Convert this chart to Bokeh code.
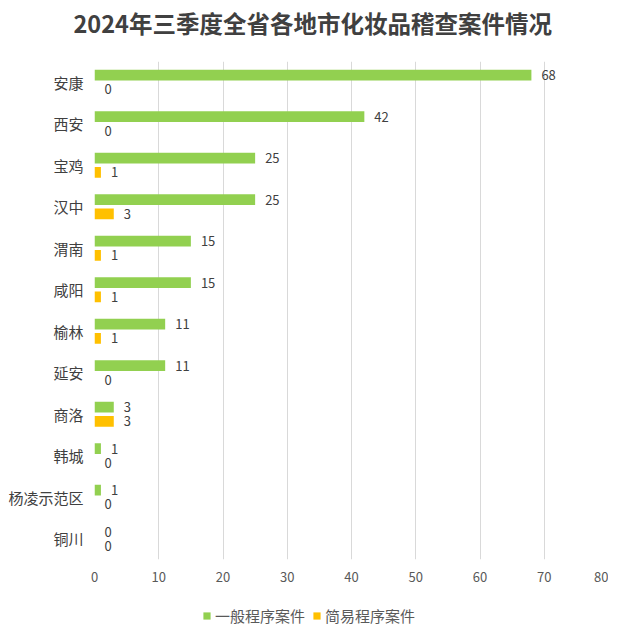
from bokeh.plotting import figure
from bokeh.layouts import column
from bokeh.models import ColumnDataSource, FactorRange, Range1d, FixedTicker, Legend, LegendItem, Title
from bokeh.transform import dodge
from bokeh.core.properties import value
from bokeh.embed import file_html
from bokeh.resources import INLINE

# ---- data ----
regions = ["安康", "西安", "宝鸡", "汉中", "渭南", "咸阳", "榆林", "延安", "商洛", "韩城", "杨凌示范区", "铜川"]
general_cases = [68, 42, 25, 25, 15, 15, 11, 11, 3, 1, 1, 0]
simple_cases = [0, 0, 1, 3, 1, 1, 1, 0, 3, 0, 0, 0]
series_names = ["一般程序案件", "简易程序案件"]
x_ticks = [0, 10, 20, 30, 40, 50, 60, 70, 80]
title_text = "2024年三季度全省各地市化妆品稽查案件情况"

FONT = "Noto Sans CJK SC"
GREEN = "#92D050"
ORANGE = "#FFC000"
TEXT = "#404040"

src = ColumnDataSource(dict(
    region=regions,
    general=general_cases,
    simple=simple_cases,
    general_label=[str(v) for v in general_cases],
    simple_label=[str(v) for v in simple_cases],
))

p = figure(width=608, height=595,
           y_range=FactorRange(factors=regions[::-1]),
           x_range=Range1d(0, 80),
           output_backend="svg", toolbar_location=None,
           min_border_left=94, min_border_right=0,
           min_border_top=61, min_border_bottom=36)

p.title.text = title_text
p.title.align = "left"
p.title.offset = -21
p.title.text_font = FONT
p.title.text_font_size = "23.5px"
p.title.text_font_style = "bold"
p.title.text_color = TEXT
p.title.standoff = 0
# blank spacer between the title and the plot area
p.add_layout(Title(text=" ", text_font_size="10px", standoff=9), "above")

OFF = 0.17
H = 0.26
g = p.hbar(y=dodge("region", OFF, range=p.y_range), left=0, right="general", height=H,
           fill_color=GREEN, line_color=None, source=src)
o = p.hbar(y=dodge("region", -OFF, range=p.y_range), left=0, right="simple", height=H,
           fill_color=ORANGE, line_color=None, source=src)

p.text(x="general", y=dodge("region", OFF, range=p.y_range), text="general_label",
       x_offset=10, text_baseline="middle", text_align="left",
       text_font=value(FONT), text_font_size="13px", text_color=TEXT, source=src)
p.text(x="simple", y=dodge("region", -OFF, range=p.y_range), text="simple_label",
       x_offset=10, text_baseline="middle", text_align="left",
       text_font=value(FONT), text_font_size="13px", text_color=TEXT, source=src)

p.xaxis.ticker = FixedTicker(ticks=x_ticks)
for ax in (p.xaxis[0], p.yaxis[0]):
    ax.axis_line_color = None
    ax.major_tick_line_color = None
    ax.minor_tick_line_color = None
    ax.major_tick_out = 0
    ax.major_tick_in = 0
    ax.minor_tick_out = 0
    ax.minor_tick_in = 0
    ax.major_label_text_font = FONT
p.xaxis.major_label_text_font_size = "13px"
p.xaxis.major_label_text_color = "#595959"
p.xaxis.major_label_standoff = 12
p.yaxis.major_label_text_font_size = "15px"
p.yaxis.major_label_text_color = TEXT
p.yaxis.major_label_standoff = 11

p.xgrid.grid_line_color = "#d9d9d9"
p.ygrid.grid_line_color = None
p.outline_line_color = None

# ---- legend strip (separate figure below the chart) ----
leg = figure(width=608, height=31, y_range=FactorRange(factors=regions[::-1]),
             x_range=Range1d(0, 80), output_backend="svg", toolbar_location=None,
             x_axis_type=None, y_axis_type=None,
             min_border_left=0, min_border_right=0, min_border_top=0, min_border_bottom=0)
leg.outline_line_color = None
leg.xgrid.grid_line_color = None
leg.ygrid.grid_line_color = None
lg = leg.hbar(y="region", left=0, right="general", height=H, fill_color=GREEN, line_color=None,
              source=src, visible=False)
lo = leg.hbar(y="region", left=0, right="simple", height=H, fill_color=ORANGE, line_color=None,
              source=src, visible=False)
legend = Legend(items=[LegendItem(label=series_names[0], renderers=[lg]),
                       LegendItem(label=series_names[1], renderers=[lo])],
                orientation="horizontal", location=(108, 0),
                glyph_width=9, glyph_height=9, label_standoff=4, spacing=7,
                label_text_font=FONT, label_text_font_size="15px", label_text_color="#595959",
                label_height=18, inactive_fill_alpha=0,
                padding=0, margin=0, border_line_color=None, background_fill_alpha=0)
leg.add_layout(legend)

layout = column(p, leg, spacing=0)
open("out.html", "w").write(file_html(layout, INLINE))
